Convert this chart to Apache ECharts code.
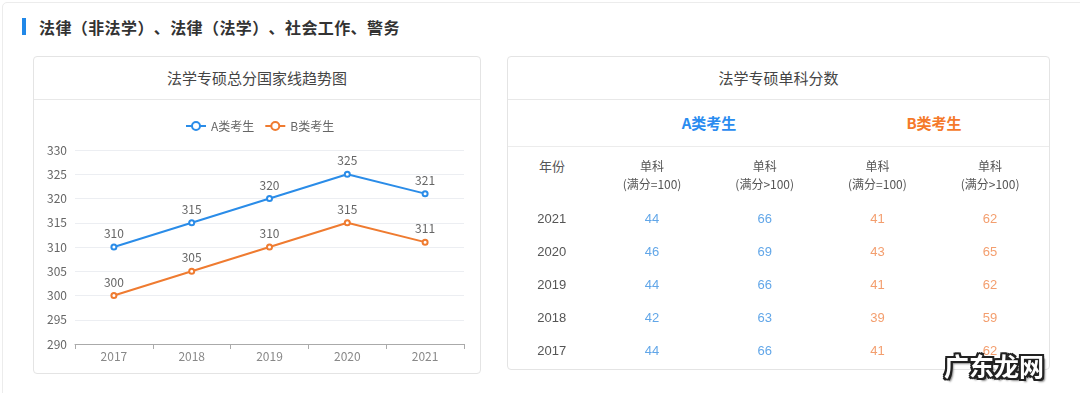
<!DOCTYPE html>
<html>
<head>
<meta charset="utf-8">
<script src="https://cdn.jsdelivr.net/npm/echarts@6/dist/echarts.min.js"></script>
<style>
html,body{margin:0;padding:0;background:#fff;}
body{width:1080px;height:393px;position:relative;overflow:hidden;font-family:"Noto Sans CJK SC","Microsoft YaHei",sans-serif;}
.outer{position:absolute;left:2px;top:2px;width:1100px;height:430px;border:1px solid #ececec;border-radius:5px;box-sizing:border-box;}
.bar{position:absolute;left:22px;top:18px;width:4px;height:17px;background:#2188e8;}
.h{position:absolute;left:39px;top:14px;font-size:16px;font-weight:bold;color:#333;line-height:26px;white-space:nowrap;text-spacing-trim:space-all;letter-spacing:0.4px;}
.card{position:absolute;border:1px solid #e4e4e4;border-radius:4px;box-sizing:border-box;background:#fff;}
.ct{position:absolute;left:0;right:0;top:0;height:42px;line-height:42px;text-align:center;font-size:15px;color:#444;border-bottom:1px solid #e8e8e8;}
.sub{position:absolute;font-size:15px;font-weight:bold;line-height:20px;transform:translateX(-50%);white-space:nowrap;}
.div2{position:absolute;left:0;right:0;top:89px;height:0;border-top:1px solid #ececec;}
.yh{position:absolute;font-size:13px;color:#555;line-height:18px;transform:translateX(-50%);}
#chart{position:absolute;left:0;top:0;width:1080px;height:393px;z-index:2;}
.wm{position:absolute;left:944px;top:347px;z-index:3;font-size:25px;font-weight:bold;color:#fff;letter-spacing:0px;white-space:nowrap;
text-shadow:-2px -2px 0 #222,2px -2px 0 #222,-2px 2px 0 #222,2px 2px 0 #222,0 -2px 0 #222,0 2px 0 #222,-2px 0 0 #222,2px 0 0 #222,3px 3px 2px #888;}
</style>
</head>
<body>
<div class="outer"></div>
<div class="bar"></div>
<div class="h">法律（非法学）、法律（法学）、社会工作、警务</div>
<div class="card" style="left:33px;top:56px;width:448px;height:318px;"><div class="ct">法学专硕总分国家线趋势图</div></div>
<div class="card" style="left:507px;top:56px;width:543px;height:314px;"><div class="ct">法学专硕单科分数</div><div class="div2"></div></div>
<div class="sub" style="left:709px;top:113px;color:#2a8cf0;">A类考生</div>
<div class="sub" style="left:934px;top:113px;color:#f5792a;">B类考生</div>
<div class="yh" style="left:552px;top:157px;">年份</div>
<div id="chart"></div>
<div class="wm">广东龙网</div>
<script>
// Line chart data
var trendYears = ['2017', '2018', '2019', '2020', '2021'];
var seriesNames = ['A类考生', 'B类考生'];
var totalA = [310, 315, 320, 325, 321];
var totalB = [300, 305, 310, 315, 311];

// Table data
var tableYears = ['2021', '2020', '2019', '2018', '2017'];
var colKeys = ['A1', 'A2', 'B1', 'B2'];
var colHeaders = ['单科\n(满分=100)', '单科\n(满分>100)', '单科\n(满分=100)', '单科\n(满分>100)'];
var aEq100 = [44, 46, 44, 42, 44];
var aGt100 = [66, 69, 66, 63, 66];
var bEq100 = [41, 43, 41, 39, 41];
var bGt100 = [62, 65, 62, 59, 62];

var blue = '#2a8ce8', orange = '#ef7b30';
var tBlue = '#3a90e2', tOrange = '#f0864a';
var cjk = '"Microsoft YaHei","Noto Sans CJK SC",sans-serif';
var num = '"Liberation Sans","Noto Sans CJK SC",sans-serif';

var tableCols = [aEq100, aGt100, bEq100, bGt100];
var tableColors = [tBlue, tBlue, tOrange, tOrange];

var tableSeries = tableCols.map(function (arr, k) {
  return {
    type: 'scatter', xAxisIndex: 1, yAxisIndex: 1, silent: true,
    symbolSize: 0,
    data: tableYears.map(function (y, i) { return [k, i, arr[i]]; }),
    label: {
      show: true, position: 'inside',
      formatter: function (p) { return String(p.value[2]); },
      color: tableColors[k], fontSize: 13, fontFamily: num
    }
  };
});

function lineSeries(name, data, color) {
  return {
    name: name, type: 'line', xAxisIndex: 0, yAxisIndex: 0,
    data: data, symbol: 'emptyCircle', symbolSize: 5,
    itemStyle: { color: color, borderWidth: 1.5 },
    lineStyle: { color: color, width: 2 },
    label: { show: true, position: 'top', color: '#666', fontSize: 12, fontFamily: cjk, distance: 4 }
  };
}

var chart = echarts.init(document.getElementById('chart'), null, { renderer: 'canvas' });
chart.setOption({
  animation: false,
  backgroundColor: 'transparent',
  color: [blue, orange],
  legend: {
    data: seriesNames, left: 185, top: 120, itemWidth: 20, itemHeight: 10, itemGap: 10, padding: 0,
    textStyle: { color: '#666', fontSize: 12, fontFamily: cjk }
  },
  grid: [
    { left: 75, top: 150, width: 389, height: 194 },
    { left: 595.7, top: 202.4, width: 450.7, height: 166 }
  ],
  xAxis: [
    {
      type: 'category', gridIndex: 0, data: trendYears, boundaryGap: true,
      axisLine: { lineStyle: { color: '#aaa' } },
      axisTick: { show: true, lineStyle: { color: '#aaa' } },
      axisLabel: { color: '#888', fontSize: 12, margin: 6, fontFamily: cjk }
    },
    {
      type: 'category', gridIndex: 1, data: colKeys, position: 'top', boundaryGap: true,
      axisLine: { show: false }, axisTick: { show: false }, splitLine: { show: false },
      axisLabel: {
        color: '#555', fontSize: 12, lineHeight: 18, margin: 9, fontFamily: cjk,
        formatter: function (v, idx) { return colHeaders[idx]; }
      }
    }
  ],
  yAxis: [
    {
      type: 'value', gridIndex: 0, min: 290, max: 330, interval: 5,
      axisLine: { show: false }, axisTick: { show: false },
      axisLabel: { color: '#666', fontSize: 12, margin: 8, fontFamily: cjk },
      splitLine: { lineStyle: { color: '#eceef2' } }
    },
    {
      type: 'category', gridIndex: 1, data: tableYears, inverse: true,
      axisLine: { show: false }, axisTick: { show: false }, splitLine: { show: false },
      axisLabel: { color: '#555', fontSize: 13, align: 'center', margin: 44, fontFamily: num }
    }
  ],
  series: [
    lineSeries(seriesNames[0], totalA, blue),
    lineSeries(seriesNames[1], totalB, orange)
  ].concat(tableSeries)
});
</script>
</body>
</html>
